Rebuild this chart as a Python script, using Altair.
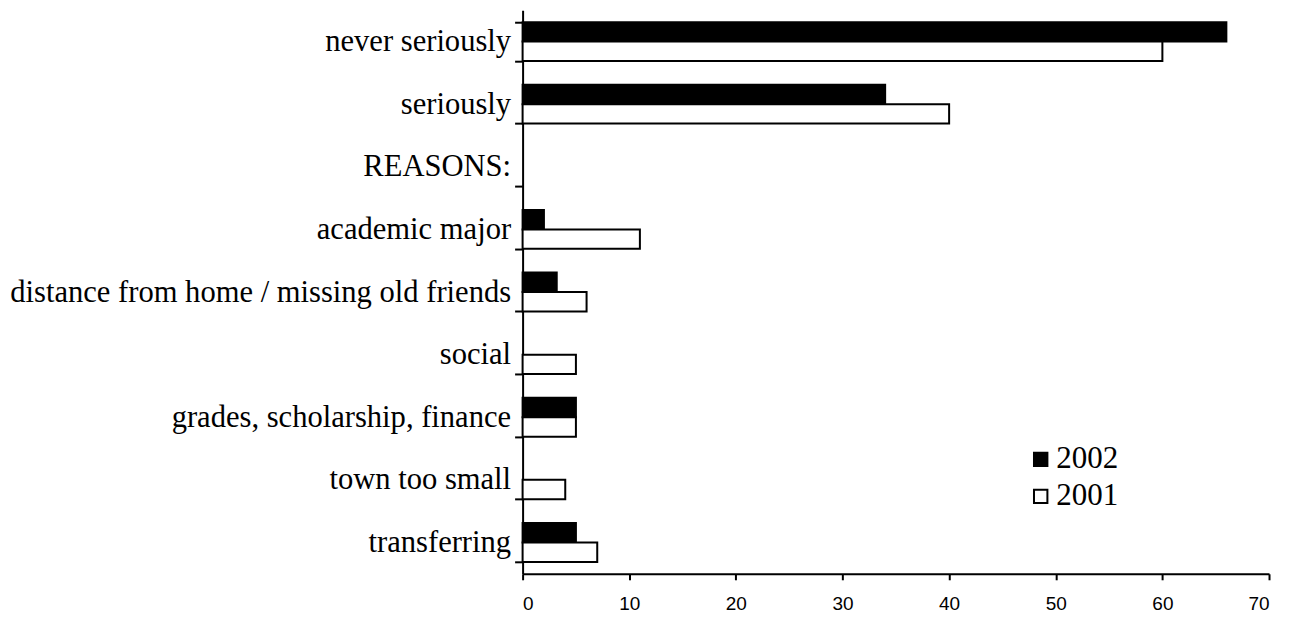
import altair as alt
import pandas as pd

categories = ["never seriously", "seriously", "REASONS:", "academic major",
              "distance from home / missing old friends", "social",
              "grades, scholarship, finance", "town too small", "transferring"]
years = ["2002", "2001"]
values_2002 = [66, 34, None, 2, 3.2, None, 5, None, 5]
values_2001 = [60, 40, None, 11, 6, 5, 5, 4, 7]

rows = []
for cat, v02, v01 in zip(categories, values_2002, values_2001):
    if v02 is not None:
        rows.append({"category": cat, "year": "2002", "value": v02})
    if v01 is not None:
        rows.append({"category": cat, "year": "2001", "value": v01})
df = pd.DataFrame(rows)

chart = alt.Chart(df).mark_bar(stroke="black", strokeWidth=2).encode(
    y=alt.Y("category:N", sort=categories,
            scale=alt.Scale(domain=categories, paddingInner=0.38, paddingOuter=0.19),
            axis=alt.Axis(title=None, tickBand="extent", labelFont="Liberation Serif",
                          labelFontSize=30.6, labelColor="black", labelPadding=4,
                          tickSize=8, tickColor="black", tickWidth=2,
                          domainColor="black", domainWidth=2, labelLimit=600)),
    yOffset=alt.YOffset("year:N", sort=years, scale=alt.Scale(domain=years, paddingInner=0, paddingOuter=0)),
    x=alt.X("value:Q", scale=alt.Scale(domain=[0, 70], nice=False),
            axis=alt.Axis(title=None, values=[0, 10, 20, 30, 40, 50, 60, 70], grid=False,
                          labelFont="Liberation Sans", labelFontSize=19, labelColor="black",
                          labelPadding=15, tickSize=6, tickColor="black", tickWidth=2,
                          domainColor="black", domainWidth=2)),
    fill=alt.Fill("year:N", scale=alt.Scale(domain=years, range=["black", "white"]),
                  legend=alt.Legend(title=None, orient="none", legendX=503, legendY=434,
                                    symbolType="square", symbolSize=180,
                                    symbolStrokeColor="black", symbolStrokeWidth=2,
                                    labelFont="Liberation Serif", labelFontSize=31,
                                    labelColor="black", rowPadding=5, labelOffset=0)),
).properties(
    width=747, height=564,
    autosize=alt.AutoSizeParams(type="none"),
    padding={"left": 515, "top": 2, "right": 20, "bottom": 40},
).configure_view(stroke=None)

chart.save("out.html", embed_options={"renderer": "svg", "actions": False})
